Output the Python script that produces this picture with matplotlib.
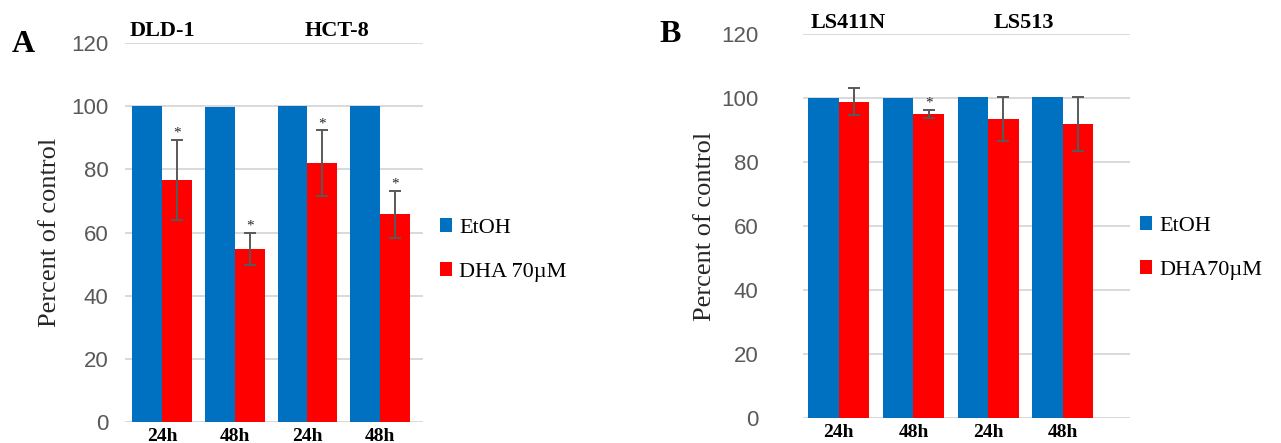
import matplotlib
matplotlib.use("Agg")
import matplotlib.pyplot as plt
from matplotlib.patches import Patch
import numpy as np

# ---- data ----
time_labels = ["24h", "48h", "24h", "48h"]
series_names = ["EtOH", "DHA 70\u00b5M"]
series_names_b = ["EtOH", "DHA70\u00b5M"]

a_lines = ["DLD-1", "HCT-8"]
a_etoh = [100.0, 99.6, 100.0, 100.2]
a_dha = [76.6, 54.8, 82.0, 65.7]
a_dha_err = [12.8, 5.2, 10.4, 7.5]
a_sig = [True, True, True, True]

b_lines = ["LS411N", "LS513"]
b_etoh = [100.0, 100.0, 100.3, 100.3]
b_dha = [98.8, 95.1, 93.5, 91.9]
b_dha_err = [4.2, 1.3, 6.8, 8.4]
b_sig = [False, True, False, False]

yticks = [0, 20, 40, 60, 80, 100, 120]

BLUE = "#0070C0"
RED = "#FF0000"
GRID = "#D9D9D9"
TICKC = "#595959"
ERRC = "#595959"

W, H = 1281, 443
fig = plt.figure(figsize=(W / 100, H / 100), dpi=100)

serif = ["Liberation Serif", "DejaVu Serif"]
sans = ["Liberation Sans", "DejaVu Sans"]


def px_axes(l, t, r, b):
    return fig.add_axes([l / W, 1 - b / H, (r - l) / W, (b - t) / H])


def panel(ax, etoh, dha, err, sig, lines, line_x, line_y, xlim, tickpad, ylab_pad, names, leg_xy):
    x = np.arange(len(etoh))
    w = 0.41
    ax.bar(x - w / 2, etoh, w, color=BLUE, zorder=2, label=names[0])
    ax.bar(x + w / 2, dha, w, color=RED, zorder=2, label=names[1])
    ax.errorbar(x + w / 2, dha, yerr=err, fmt="none", ecolor=ERRC, elinewidth=1.4,
                capsize=4, capthick=1.4, zorder=3)
    for xi, v, e, s in zip(x, dha, err, sig):
        if s:
            ax.annotate("*", (xi + w / 2, v + e), xytext=(0, 0), textcoords="offset points",
                        ha="center", va="bottom", fontsize=11, family=serif, color="#262626")
    ax.set_ylim(0, 120)
    ax.set_xlim(*xlim)
    ax.set_yticks(yticks)
    ax.yaxis.grid(True, color=GRID, linewidth=1.4, zorder=0)
    ax.set_axisbelow(True)
    for sp in ax.spines.values():
        sp.set_visible(False)
    ax.tick_params(axis="y", length=0, pad=tickpad, labelsize=16, labelcolor=TICKC)
    for lab in ax.get_yticklabels():
        lab.set_family(sans)
    ax.set_xticks(x)
    ax.set_xticklabels(time_labels, fontsize=14, fontweight="bold", family=serif)
    ax.tick_params(axis="x", length=0, pad=4)
    ax.set_ylabel("Percent of control", fontsize=19, family=serif, color="#262626",
                  labelpad=ylab_pad)
    for name, lx in zip(lines, line_x):
        ax.text(lx, line_y, name, ha="center", va="center", fontsize=16,
                fontweight="bold", family=serif, color="black")
    handles = [Patch(facecolor=BLUE), Patch(facecolor=RED)]
    fig.legend(handles, names, loc="center left",
               bbox_to_anchor=(leg_xy[0] / W, 1 - leg_xy[1] / H), frameon=False,
               prop={"family": serif, "size": 16}, handlelength=0.55, handleheight=0.55,
               handletextpad=0.3, labelspacing=1.1, borderaxespad=0, borderpad=0)


axA = px_axes(125, 43, 423, 422)
panel(axA, a_etoh, a_dha, a_dha_err, a_sig, a_lines, [0.0, 2.41], 123.7,
      (-0.51, 3.59), 12, 7, series_names, (440, 250))

axB = px_axes(803, 34, 1130, 418)
panel(axB, b_etoh, b_dha, b_dha_err, b_sig, b_lines, [0.12, 2.48], 123.4,
      (-0.48, 3.90), 32, 4, series_names_b, (1140, 248))

fig.text(23 / W, 1 - 44 / H, "A", fontsize=23, fontweight="bold", family=serif,
         ha="center", va="center")
fig.text(670 / W, 1 - 34 / H, "B", fontsize=23, fontweight="bold", family=serif,
         ha="center", va="center")

fig.savefig("out.png", dpi=100)
